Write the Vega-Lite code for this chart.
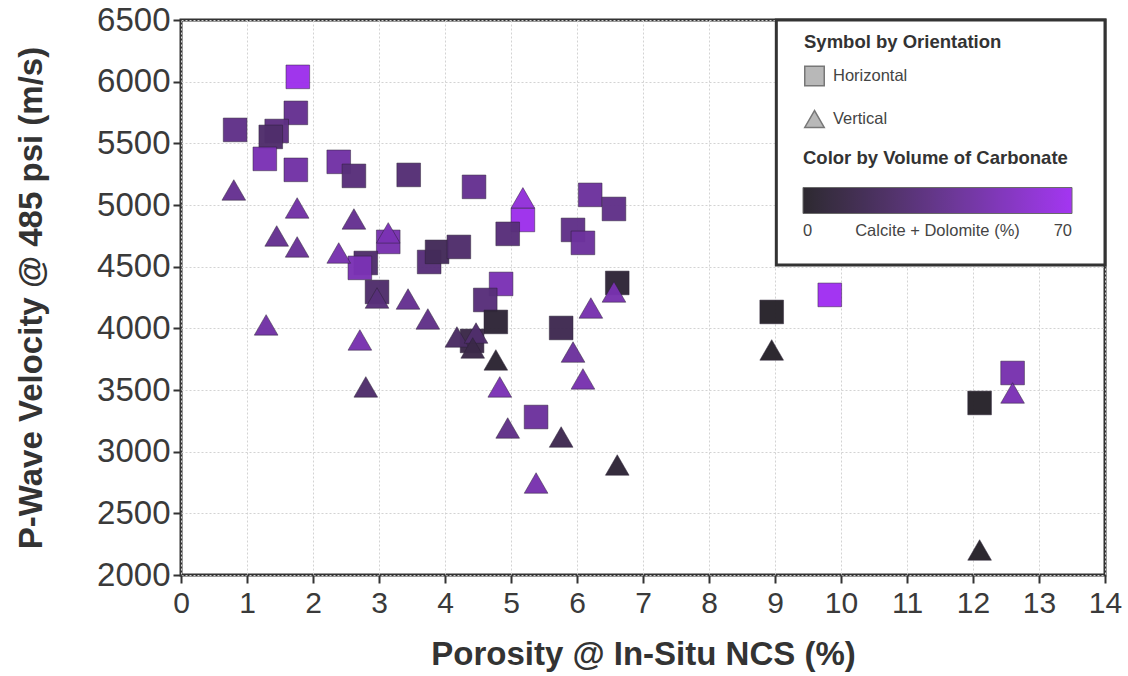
{
  "$schema": "https://vega.github.io/schema/vega-lite/v6.json",
  "width": 924,
  "height": 555,
  "autosize": "none",
  "padding": {"left": 181, "top": 20, "right": 23, "bottom": 101},
  "background": "white",
  "config": {
    "font": "Liberation Sans",
    "view": {"stroke": "#333333", "strokeWidth": 3},
    "axis": {
      "domain": false,
      "grid": true,
      "gridColor": "#d3d3d3",
      "gridDash": [2, 2],
      "gridWidth": 1,
      "tickColor": "#333333",
      "tickWidth": 2,
      "tickSize": 8,
      "labelFont": "Liberation Sans",
      "labelColor": "#3a3a3a",
      "labelOverlap": false,
      "labelFlush": false,
      "titleFont": "Liberation Sans",
      "titleFontWeight": "bold",
      "titleFontSize": 33,
      "titleColor": "#333333"
    }
  },
  "datasets": {
    "pts": [
      {"por": 1.77, "vp": 6039, "orient": "Horizontal", "carb": 68},
      {"por": 0.82, "vp": 5609, "orient": "Horizontal", "carb": 35},
      {"por": 1.74, "vp": 5747, "orient": "Horizontal", "carb": 38},
      {"por": 1.45, "vp": 5600, "orient": "Horizontal", "carb": 33},
      {"por": 1.36, "vp": 5552, "orient": "Horizontal", "carb": 25},
      {"por": 1.27, "vp": 5374, "orient": "Horizontal", "carb": 50},
      {"por": 1.74, "vp": 5285, "orient": "Horizontal", "carb": 45},
      {"por": 2.39, "vp": 5350, "orient": "Horizontal", "carb": 45},
      {"por": 2.62, "vp": 5236, "orient": "Horizontal", "carb": 30},
      {"por": 3.45, "vp": 5244, "orient": "Horizontal", "carb": 28},
      {"por": 4.44, "vp": 5147, "orient": "Horizontal", "carb": 38},
      {"por": 6.2, "vp": 5082, "orient": "Horizontal", "carb": 42},
      {"por": 6.56, "vp": 4968, "orient": "Horizontal", "carb": 35},
      {"por": 5.18, "vp": 4879, "orient": "Horizontal", "carb": 68},
      {"por": 4.95, "vp": 4766, "orient": "Horizontal", "carb": 30},
      {"por": 5.94, "vp": 4798, "orient": "Horizontal", "carb": 35},
      {"por": 6.09, "vp": 4693, "orient": "Horizontal", "carb": 42},
      {"por": 3.14, "vp": 4701, "orient": "Horizontal", "carb": 48},
      {"por": 2.8, "vp": 4530, "orient": "Horizontal", "carb": 25},
      {"por": 2.71, "vp": 4490, "orient": "Horizontal", "carb": 50},
      {"por": 3.76, "vp": 4538, "orient": "Horizontal", "carb": 30},
      {"por": 3.88, "vp": 4620, "orient": "Horizontal", "carb": 18},
      {"por": 4.21, "vp": 4660, "orient": "Horizontal", "carb": 25},
      {"por": 2.97, "vp": 4295, "orient": "Horizontal", "carb": 25},
      {"por": 4.85, "vp": 4360, "orient": "Horizontal", "carb": 50},
      {"por": 4.61, "vp": 4230, "orient": "Horizontal", "carb": 30},
      {"por": 4.77, "vp": 4052, "orient": "Horizontal", "carb": 5},
      {"por": 5.76, "vp": 4003, "orient": "Horizontal", "carb": 15},
      {"por": 6.61, "vp": 4368, "orient": "Horizontal", "carb": 5},
      {"por": 4.41, "vp": 3898, "orient": "Horizontal", "carb": 12},
      {"por": 5.38, "vp": 3281, "orient": "Horizontal", "carb": 42},
      {"por": 8.95, "vp": 4133, "orient": "Horizontal", "carb": 0},
      {"por": 9.83, "vp": 4271, "orient": "Horizontal", "carb": 70},
      {"por": 12.6, "vp": 3638, "orient": "Horizontal", "carb": 48},
      {"por": 12.1, "vp": 3395, "orient": "Horizontal", "carb": 0},
      {"por": 0.8, "vp": 5122, "orient": "Vertical", "carb": 38},
      {"por": 1.76, "vp": 4976, "orient": "Vertical", "carb": 45},
      {"por": 2.62, "vp": 4887, "orient": "Vertical", "carb": 38},
      {"por": 1.45, "vp": 4749, "orient": "Vertical", "carb": 38},
      {"por": 1.76, "vp": 4660, "orient": "Vertical", "carb": 40},
      {"por": 2.39, "vp": 4611, "orient": "Vertical", "carb": 48},
      {"por": 3.14, "vp": 4774, "orient": "Vertical", "carb": 50},
      {"por": 2.97, "vp": 4246, "orient": "Vertical", "carb": 30},
      {"por": 3.44, "vp": 4238, "orient": "Vertical", "carb": 38},
      {"por": 3.74, "vp": 4076, "orient": "Vertical", "carb": 35},
      {"por": 1.29, "vp": 4028, "orient": "Vertical", "carb": 45},
      {"por": 2.71, "vp": 3906, "orient": "Vertical", "carb": 48},
      {"por": 2.8, "vp": 3525, "orient": "Vertical", "carb": 25},
      {"por": 4.18, "vp": 3930, "orient": "Vertical", "carb": 22},
      {"por": 4.47, "vp": 3962, "orient": "Vertical", "carb": 25},
      {"por": 4.42, "vp": 3841, "orient": "Vertical", "carb": 12},
      {"por": 4.77, "vp": 3744, "orient": "Vertical", "carb": 3},
      {"por": 4.83, "vp": 3525, "orient": "Vertical", "carb": 50},
      {"por": 4.95, "vp": 3192, "orient": "Vertical", "carb": 35},
      {"por": 5.76, "vp": 3119, "orient": "Vertical", "carb": 15},
      {"por": 6.61, "vp": 2892, "orient": "Vertical", "carb": 5},
      {"por": 5.38, "vp": 2746, "orient": "Vertical", "carb": 48},
      {"por": 6.21, "vp": 4165, "orient": "Vertical", "carb": 48},
      {"por": 5.94, "vp": 3808, "orient": "Vertical", "carb": 42},
      {"por": 6.09, "vp": 3590, "orient": "Vertical", "carb": 48},
      {"por": 6.56, "vp": 4295, "orient": "Vertical", "carb": 48},
      {"por": 8.95, "vp": 3825, "orient": "Vertical", "carb": 0},
      {"por": 12.6, "vp": 3476, "orient": "Vertical", "carb": 50},
      {"por": 12.1, "vp": 2203, "orient": "Vertical", "carb": 0},
      {"por": 5.18, "vp": 5058, "orient": "Vertical", "carb": 62}
    ]
  },
  "layer": [
    {
      "data": {"values": [{}]},
      "mark": {"type": "rect", "fill": "white", "stroke": "#333333", "strokeWidth": 3},
      "encoding": {
        "x": {
          "datum": 9.02, "type": "quantitative",
          "scale": {"domain": [0, 14], "nice": false, "zero": false},
          "axis": {"title": "Porosity @ In-Situ NCS (%)", "values": [0,1,2,3,4,5,6,7,8,9,10,11,12,13,14], "format": "d", "labelPadding": 5, "titlePadding": 20, "labelFontSize": 30}
        },
        "x2": {"datum": 14},
        "y": {
          "datum": 4514, "type": "quantitative",
          "scale": {"domain": [2000, 6500], "nice": false, "zero": false},
          "axis": {"title": "P-Wave Velocity @ 485 psi (m/s)", "values": [2000,2500,3000,3500,4000,4500,5000,5500,6000,6500], "format": "d", "labelPadding": 3, "titlePadding": 48, "labelFontSize": 33}
        },
        "y2": {"datum": 6500}
      }
    },
    {
      "data": {"name": "pts"},
      "mark": {"type": "point", "filled": true, "size": 560, "opacity": 0.97, "stroke": "#2a1f33", "strokeWidth": 1, "strokeOpacity": 0.5},
      "encoding": {
        "x": {
          "field": "por", "type": "quantitative",
          "scale": {"domain": [0, 14], "nice": false, "zero": false},
          "axis": {"title": "Porosity @ In-Situ NCS (%)", "values": [0,1,2,3,4,5,6,7,8,9,10,11,12,13,14], "format": "d", "labelPadding": 5, "titlePadding": 20, "labelFontSize": 30}
        },
        "y": {
          "field": "vp", "type": "quantitative",
          "scale": {"domain": [2000, 6500], "nice": false, "zero": false},
          "axis": {"title": "P-Wave Velocity @ 485 psi (m/s)", "values": [2000,2500,3000,3500,4000,4500,5000,5500,6000,6500], "format": "d", "labelPadding": 3, "titlePadding": 48, "labelFontSize": 33}
        },
        "shape": {
          "field": "orient", "type": "nominal",
          "scale": {"domain": ["Horizontal", "Vertical"], "range": ["square", "triangle-up"]},
          "legend": {
            "title": "Symbol by Orientation",
            "orient": "none", "legendX": 623, "legendY": 13,
            "titleFontSize": 18.5, "titleFontWeight": "bold", "titleColor": "#333333", "titlePadding": 14, "titleLimit": 400,
            "labelFontSize": 16.5, "labelColor": "#444444", "labelOffset": 8,
            "symbolSize": 380, "symbolFillColor": "#b8b8b8", "symbolStrokeColor": "#777777", "symbolStrokeWidth": 1.5, "symbolOpacity": 1,
            "rowPadding": 18
          }
        },
        "color": {
          "field": "carb", "type": "quantitative",
          "scale": {"domain": [0, 70], "range": ["#27232a", "#a12ff2"]},
          "legend": {
            "title": "Color by Volume of Carbonate",
            "orient": "none", "legendX": 622, "legendY": 129, "direction": "horizontal",
            "titleFontSize": 18.5, "titleFontWeight": "bold", "titleColor": "#333333", "titlePadding": 20, "titleLimit": 400,
            "gradientLength": 269, "gradientThickness": 26, "gradientStrokeColor": "#666666", "gradientStrokeWidth": 1,
            "values": [0, 35, 70],
            "labelExpr": "datum.value == 35 ? 'Calcite + Dolomite (%)' : datum.label",
            "labelFontSize": 16.5, "labelColor": "#444444", "labelOffset": 9, "labelLimit": 300, "labelOverlap": false
          }
        }
      }
    }
  ]
}
